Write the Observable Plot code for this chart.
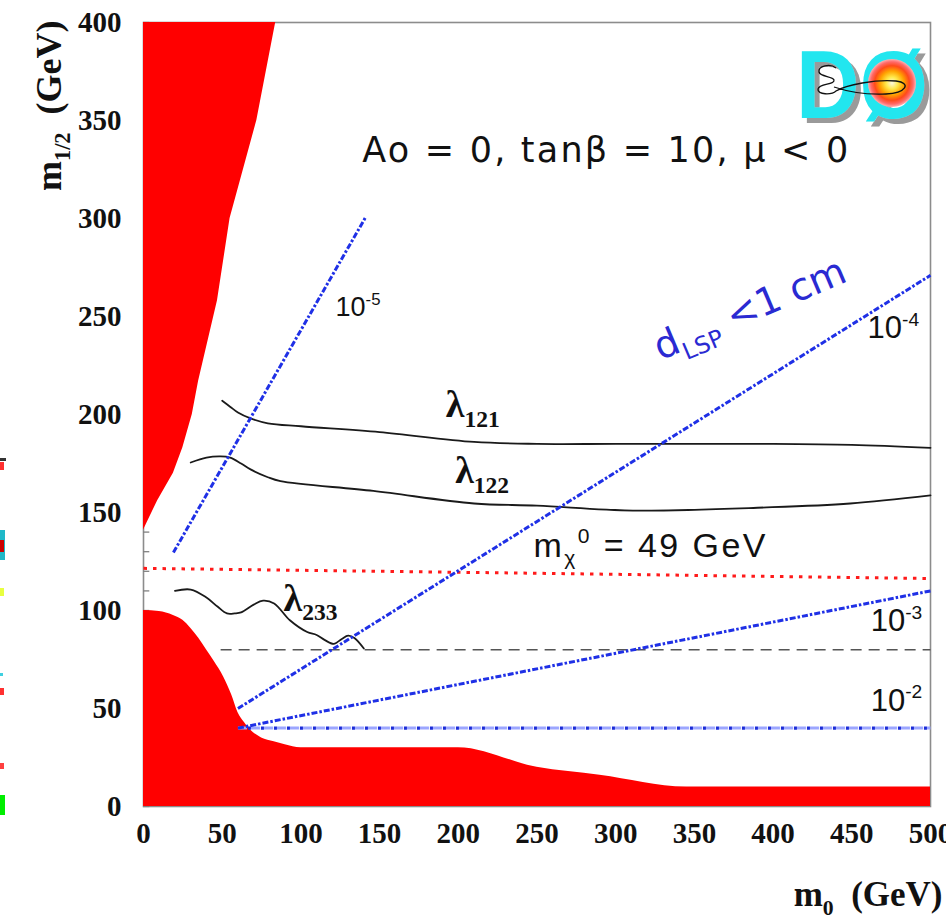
<!DOCTYPE html>
<html>
<head>
<meta charset="utf-8">
<script src="https://cdn.jsdelivr.net/npm/d3@7"></script>
<script src="https://cdn.jsdelivr.net/npm/@observablehq/plot@0.6"></script>
<style>
  html, body { margin: 0; padding: 0; background: #fff; overflow: hidden; }
  #chart { position: relative; width: 946px; height: 924px; }
</style>
</head>
<body>
<div id="chart"></div>
<script>
// Axis ticks (GeV)
const m0Ticks = [0, 50, 100, 150, 200, 250, 300, 350, 400, 450, 500];
const m12Ticks = [0, 50, 100, 150, 200, 250, 300, 350, 400];
const m12MinorTicks = [0, 10, 20, 30, 40, 50, 60, 70, 80, 90, 100, 110, 120, 130, 140, 150, 160, 170, 180, 190, 200,
  210, 220, 230, 240, 250, 260, 270, 280, 290, 300, 310, 320, 330, 340, 350, 360, 370, 380, 390, 400];

// Excluded region at small m0, large m1/2 (boundary m0 as a function of m1/2)
const upperExclM12 = [141, 156, 170, 183, 200, 217, 258, 300, 350, 400];
const upperExclM0  = [0, 9, 19, 25, 31, 35, 47, 55, 72, 84];

// Excluded region at small m1/2
const lowerExclM0  = [0, 10, 19, 25, 30, 35, 40, 45, 51, 56, 60, 64, 68, 75, 83, 90, 100, 200, 250, 290, 345, 500];
const lowerExclM12 = [100, 99.5, 97.5, 95, 91, 86, 80, 74, 66, 57, 48, 43, 39, 35, 33, 31.5, 30, 30, 20, 16, 10, 10];

// Coupling limit contours
const lam121M0  = [50, 55, 60, 68, 79, 100, 150, 210, 250, 300, 400, 450, 500];
const lam121M12 = [207, 204, 201, 198, 195.5, 194, 191, 186, 185, 185, 185, 184.5, 183];
const lam122M0  = [30, 40, 49, 55, 62, 68, 79, 87, 146, 210, 250, 311, 396, 449, 500];
const lam122M12 = [175.5, 178, 178.6, 178, 175, 172, 168, 166, 161, 154.6, 153.5, 151, 152.6, 154.6, 158.7];
const lam233M0  = [20, 30, 40, 47, 53, 58, 62, 70, 76, 83, 93, 104, 110, 115, 121, 126, 130, 134, 140];
const lam233M12 = [110, 110.7, 106.6, 102, 98.5, 98.5, 99, 103, 105, 103.6, 95, 89, 87.5, 85, 83, 85.5, 87.2, 86, 80.6];

// Neutralino mass contour (49 GeV) and reference line at 80 GeV
const chiMassM0  = [0, 250, 500];
const chiMassM12 = [121.5, 119, 116.3];
const refLineM0  = [49, 500];
const refLineM12 = [80, 80];

// Decay-length contours for coupling values 1e-5 ... 1e-2
const dE5M0 = [19, 141],  dE5M12 = [129.6, 300.5];
const dE4M0 = [60, 500],  dE4M12 = [50, 271];
const dE3M0 = [60, 500],  dE3M12 = [40, 110];
const dE2M0 = [60, 500],  dE2M12 = [40, 40];

const rows = (xs, ys) => xs.map((x, i) => ({m0: x, m12: ys[i]}));

const serif = "Liberation Serif";
const sans = "Liberation Sans";
const blue = "#1f30e6";
const dashDot = {x: "m0", y: "m12", stroke: blue, strokeWidth: 3, strokeDasharray: "6,2,2.5,2", strokeLinecap: "butt"};

const chart = Plot.plot({
  width: 946,
  height: 924,
  marginLeft: 143,
  marginRight: 16,
  marginTop: 22,
  marginBottom: 118,
  x: {domain: [0, 500], axis: null},
  y: {domain: [0, 400], axis: null},
  marks: [
    Plot.frame({stroke: "#8c8c8c", strokeWidth: 1.6}),
    Plot.ruleY(m12MinorTicks, {y: d => d, x1: 0, x2: 4, stroke: "#808080", strokeWidth: 1.3}),

    // excluded regions
    Plot.areaX(rows(upperExclM0, upperExclM12), {y: "m12", x: "m0", fill: "#ff0000"}),
    Plot.areaY(rows(lowerExclM0, lowerExclM12), {x: "m0", y: "m12", fill: "#ff0000", curve: "monotone-x"}),

    // reference lines
    Plot.line(rows(refLineM0, refLineM12), {x: "m0", y: "m12", stroke: "#555", strokeWidth: 1.6, strokeDasharray: "11,7", strokeLinecap: "butt"}),
    Plot.line(rows(chiMassM0, chiMassM12), {x: "m0", y: "m12", stroke: "#ff1a1a", strokeWidth: 3, strokeDasharray: "3.5,6", strokeLinecap: "butt"}),

    // coupling limits
    Plot.line(rows(lam121M0, lam121M12), {x: "m0", y: "m12", stroke: "#1a1a1a", strokeWidth: 1.8, curve: "catmull-rom"}),
    Plot.line(rows(lam122M0, lam122M12), {x: "m0", y: "m12", stroke: "#1a1a1a", strokeWidth: 1.8, curve: "catmull-rom"}),
    Plot.line(rows(lam233M0, lam233M12), {x: "m0", y: "m12", stroke: "#1a1a1a", strokeWidth: 1.8, curve: "catmull-rom"}),

    // decay-length contours
    Plot.line(rows(dE2M0, dE2M12), {x: "m0", y: "m12", stroke: "#9ca6ff", strokeWidth: 3, strokeDasharray: "9,4", strokeLinecap: "butt"}),
    Plot.line(rows(dE2M0, dE2M12), {x: "m0", y: "m12", stroke: "#1a2bd8", strokeWidth: 3.2, strokeDasharray: "3,10", strokeDashoffset: -10, strokeLinecap: "butt"}),
    Plot.line(rows(dE3M0, dE3M12), dashDot),
    Plot.line(rows(dE4M0, dE4M12), dashDot),
    Plot.line(rows(dE5M0, dE5M12), dashDot),

    // tick labels
    Plot.text(m0Ticks, {x: d => d, y: 0, text: d => String(d), dy: 27, fontFamily: serif, fontWeight: "bold", fontSize: 29, fill: "#111"}),
    Plot.text(m12Ticks, {x: 0, y: d => d, text: d => String(d), dx: -22, textAnchor: "end", fontFamily: serif, fontWeight: "bold", fontSize: 29, fill: "#111"}),

    // axis titles
    Plot.text(["m_{1/2}  (GeV)"], {frameAnchor: "top-left", text: d => d, dx: -108, dy: -2, rotate: -90, textAnchor: "end",
      fontFamily: serif, fontWeight: "bold", fontSize: 36, fill: "#111"}),
    Plot.text(["m_{0}  (GeV)"], {frameAnchor: "bottom-right", text: d => d, dx: 12, dy: 99, textAnchor: "end",
      fontFamily: serif, fontWeight: "bold", fontSize: 35, fill: "#111"}),

    // annotations
    Plot.text(["Ao = 0, tanβ = 10, μ < 0"], {x: 139, y: 334.7, text: d => d, textAnchor: "start",
      fontFamily: "DejaVu Sans", fontSize: 35, fill: "#111"}),
    Plot.text(["λ_{121}"], {x: 192, y: 198.5, text: d => d, textAnchor: "start", lineAnchor: "bottom",
      fontFamily: serif, fontWeight: "bold", fontSize: 38, fill: "#111"}),
    Plot.text(["λ_{122}"], {x: 198, y: 164.8, text: d => d, textAnchor: "start", lineAnchor: "bottom",
      fontFamily: serif, fontWeight: "bold", fontSize: 38, fill: "#111"}),
    Plot.text(["λ_{233}"], {x: 89, y: 100, text: d => d, textAnchor: "start", lineAnchor: "bottom",
      fontFamily: serif, fontWeight: "bold", fontSize: 38, fill: "#111"}),
    Plot.text(["m_{χ}^{0} = 49 GeV"], {x: 247.8, y: 127.5, text: d => d, textAnchor: "start", lineAnchor: "bottom",
      fontFamily: sans, fontSize: 34, fill: "#111"}),
    Plot.text(["10^{-5}"], {x: 122, y: 254.6, text: d => d, textAnchor: "start",
      fontFamily: sans, fontSize: 27, fill: "#111"}),
    Plot.text(["10^{-4}"], {x: 460, y: 244, text: d => d, textAnchor: "start",
      fontFamily: sans, fontSize: 31, fill: "#111"}),
    Plot.text(["10^{-3}"], {x: 462, y: 94.4, text: d => d, textAnchor: "start",
      fontFamily: sans, fontSize: 31, fill: "#111"}),
    Plot.text(["10^{-2}"], {x: 462, y: 54, text: d => d, textAnchor: "start",
      fontFamily: sans, fontSize: 31, fill: "#111"}),
    Plot.text(["d_{LSP} <1 cm"], {x: 328.5, y: 227.5, text: d => d, textAnchor: "start", lineAnchor: "bottom", rotate: -23,
      fontFamily: "DejaVu Sans", fontSize: 38, fill: "#2a2ad2"})
  ]
});

document.getElementById("chart").appendChild(chart);

// Sub- and superscripts written as _{...} and ^{...}
function richText(svg) {
  d3.select(svg).selectAll("text").each(function () {
    const s = this.textContent;
    if (!/[_^]\{/.test(s)) return;
    const size = parseFloat(getComputedStyle(this).fontSize);
    const parts = s.split(/([_^]\{[^}]*\})/).filter(p => p);
    this.textContent = "";
    let shift = 0;
    for (const p of parts) {
      const t = document.createElementNS("http://www.w3.org/2000/svg", "tspan");
      let target = 0, txt = p, small = false;
      if (p.startsWith("_{")) { target = 0.26 * size; txt = p.slice(2, -1); small = true; }
      else if (p.startsWith("^{")) { target = -0.4 * size; txt = p.slice(2, -1); small = true; }
      t.setAttribute("dy", target - shift);
      shift = target;
      if (small) t.setAttribute("font-size", size * 0.62);
      t.textContent = txt;
      this.appendChild(t);
    }
  });
}
richText(chart);

// fixed widths for the two wide sans labels
const fixedWidths = [["Ao =", 486], ["mχ", 232]];
d3.select(chart).selectAll("text").each(function () {
  const hit = fixedWidths.find(([start]) => this.textContent.startsWith(start));
  if (hit) d3.select(this).attr("textLength", hit[1]).attr("lengthAdjust", "spacing");
});

// Experiment logo in the upper right corner
const svg = d3.select(chart);
const defs = svg.append("defs");
const grad = defs.append("radialGradient").attr("id", "fireball");
[["0%", "#fffbe0"], ["25%", "#ffe94a"], ["50%", "#ffa200"], ["72%", "#ff4a1a"], ["88%", "#ff6a6a"], ["100%", "#ffb0b0"]]
  .forEach(([o, c]) => grad.append("stop").attr("offset", o).attr("stop-color", c));
const shadow = defs.append("filter").attr("id", "logoShadow").attr("x", "-10%").attr("y", "-10%").attr("width", "130%").attr("height", "130%");
shadow.append("feDropShadow").attr("dx", 5).attr("dy", 5).attr("stdDeviation", 0.6)
  .attr("flood-color", "#9a9a9a").attr("flood-opacity", 1);
const logo = svg.append("g").attr("text-anchor", "start");
logo.append("text").attr("x", 796).attr("y", 118).attr("font-family", sans).attr("font-weight", "bold")
  .attr("font-size", 96).attr("textLength", 132).attr("lengthAdjust", "spacingAndGlyphs")
  .attr("fill", "#22e6ef").attr("filter", "url(#logoShadow)").text("DØ");
logo.append("circle").attr("cx", 892).attr("cy", 83).attr("r", 24).attr("fill", "url(#fireball)");
logo.append("path").attr("fill", "none").attr("stroke", "#111").attr("stroke-width", 1.3)
  .attr("d", "M836,68 c-6,-5 -18,-2 -17,4 c1,5 14,4 15,8 c1,5 -15,3 -16,9 c-1,6 14,6 18,2 c10,-6 40,-12 60,-10 c16,2 10,12 -10,13 c-20,1 -40,-3 -52,-7");

// fragments along the left edge
[[0, 458, 6, 3, "#333"], [0, 462, 4, 8, "#ff3030"], [0, 530, 5, 30, "#1fb8c8"], [0, 540, 4, 12, "#c00"],
 [0, 588, 4, 8, "#e8ff40"], [0, 673, 3, 3, "#40d0e0"], [0, 688, 4, 7, "#ff3030"], [0, 763, 4, 6, "#ff4040"],
 [0, 795, 5, 20, "#00ee00"]]
  .forEach(([x, y, w, h, c]) => svg.append("rect").attr("x", x).attr("y", y).attr("width", w).attr("height", h).attr("fill", c));
</script>
</body>
</html>
